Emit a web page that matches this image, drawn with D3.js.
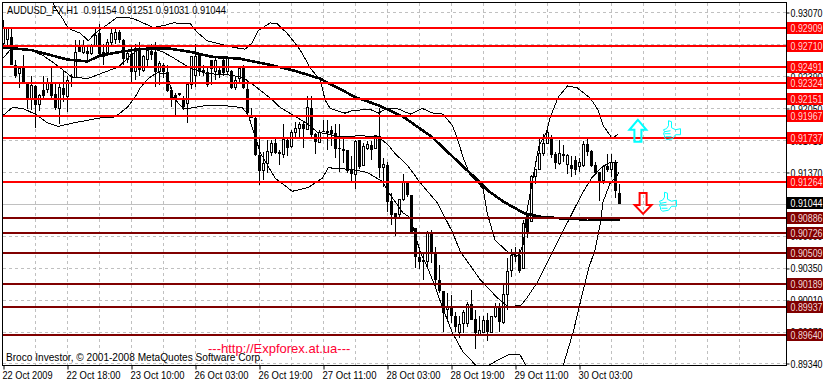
<!DOCTYPE html>
<html>
<head>
<meta charset="utf-8">
<script src="https://cdnjs.cloudflare.com/ajax/libs/d3/7.8.5/d3.min.js"></script>
<style>
    html, body { margin: 0; padding: 0; background: #fff; overflow: hidden; }
    svg { display: block; }
    text { font-family: "Liberation Sans", sans-serif; }
</style>
</head>
<body>
<svg id="chart" width="823" height="383"></svg>
<script>
// prices are in 1/10000, so 9104 means 0.91040
var candleOpen = [
    9274,9278,9281,9251,9242,9248,9233,9216,9229,9209,
    9225,9225,9232,9220,9205,9227,9218,9239,9238,9271,
    9265,9266,9263,9272,9285,9265,9265,9275,9278,9286,
    9278,9257,9263,9244,9269,9245,9257,9266,9265,9244,
    9251,9244,9225,9219,9221,9215,9210,9230,9240,9262,
    9246,9244,9256,9244,9246,9257,9244,9245,9227,9237,
    9249,9226,9198,9195,9156,9139,9147,9158,9168,9159,
    9156,9172,9165,9179,9184,9188,9183,9205,9178,9169,
    9181,9180,9182,9179,9163,9162,9161,9140,9135,9171,
    9144,9163,9166,9162,9176,9142,9145,9107,9094,9092,
    9108,9126,9113,9078,9047,9044,9042,9074,9051,9023,
    9011,8991,8995,8985,8967,8977,8977,8997,8981,8965,
    8967,8980,8967,8984,8994,8978,9007,9033,9049,9049,
    9035,9092,9085,9133,9140,9157,9168,9173,9157,9147,
    9157,9145,9145,9150,9143,9144,9167,9160,9145,9137,
    9128,9144,9140,9148,9115]
var candleHigh = [
    9299,9292,9292,9256,9249,9262,9233,9240,9230,9220,
    9239,9237,9248,9233,9232,9245,9240,9242,9278,9278,
    9278,9271,9274,9290,9295,9274,9279,9290,9290,9288,
    9279,9267,9271,9274,9276,9262,9272,9274,9276,9255,
    9253,9251,9228,9221,9221,9218,9232,9260,9274,9262,
    9251,9248,9256,9260,9249,9258,9260,9246,9239,9249,
    9251,9235,9205,9198,9173,9159,9172,9172,9173,9161,
    9188,9173,9182,9191,9191,9191,9218,9218,9179,9182,
    9193,9193,9186,9189,9189,9173,9161,9154,9172,9172,
    9168,9170,9170,9177,9205,9152,9148,9115,9094,9108,
    9135,9127,9113,9078,9058,9051,9075,9076,9058,9039,
    9011,9009,9007,8989,8984,8991,8999,9012,8991,8984,
    8984,8988,8984,8998,8998,9018,9046,9056,9058,9056,
    9087,9092,9134,9141,9173,9178,9184,9177,9159,9171,
    9166,9157,9155,9154,9152,9170,9173,9161,9148,9138,
    9145,9157,9157,9150,9125]
var candleLow = [
    9272,9272,9251,9237,9227,9232,9204,9203,9184,9202,
    9216,9221,9216,9203,9188,9212,9201,9228,9237,9265,
    9263,9255,9262,9271,9260,9251,9262,9272,9274,9275,
    9251,9253,9233,9235,9239,9244,9248,9256,9228,9230,
    9237,9223,9207,9198,9218,9203,9190,9226,9228,9240,
    9240,9228,9230,9235,9237,9240,9242,9226,9225,9232,
    9226,9198,9195,9154,9124,9129,9136,9154,9157,9145,
    9152,9154,9163,9173,9175,9163,9182,9175,9157,9168,
    9180,9161,9165,9152,9138,9147,9136,9127,9119,9141,
    9144,9161,9150,9162,9131,9122,9095,9081,9070,9090,
    9107,9111,9072,9035,9034,9023,9034,9041,9014,9009,
    8967,8980,8977,8968,8961,8966,8973,8980,8949,8965,
    8966,8958,8966,8982,8968,8976,8991,9026,9042,9030,
    9035,9067,9085,9125,9140,9154,9168,9152,9141,9145,
    9148,9135,9132,9134,9138,9143,9154,9143,9134,9107,
    9125,9138,9132,9110,9103]
var candleClose = [
    9290,9290,9251,9240,9248,9232,9216,9229,9209,9219,
    9218,9232,9218,9205,9227,9219,9235,9238,9265,9265,
    9271,9263,9271,9283,9263,9260,9275,9285,9286,9278,
    9258,9263,9244,9269,9246,9260,9267,9262,9244,9253,
    9244,9224,9216,9214,9219,9207,9231,9260,9260,9244,
    9244,9230,9247,9256,9242,9243,9258,9227,9235,9248,
    9227,9200,9195,9156,9139,9147,9159,9168,9158,9157,
    9172,9163,9180,9184,9188,9183,9206,9177,9169,9180,
    9180,9181,9178,9162,9162,9160,9139,9135,9170,9143,
    9165,9167,9161,9176,9142,9145,9106,9092,9090,9108,
    9126,9113,9074,9047,9042,9042,9073,9051,9023,9011,
    8988,8993,8985,8973,8975,8988,8997,8980,8966,8969,
    8980,8967,8984,8994,8978,9007,9032,9049,9047,9032,
    9083,9072,9133,9140,9157,9168,9179,9156,9147,9157,
    9155,9155,9141,9140,9148,9167,9159,9144,9136,9127,
    9143,9140,9148,9117,9104]

// indicator lines, bar number and price read at the bends
var maBars = [0,7,16,21,24,29,34,41,47,52,59,67,72,79,88,94,100,107,114,119,121,125,130,134,140,146,154]
var maPrices = [9270,9267,9257,9255,9261,9265,9268,9269,9265,9260,9258,9251,9246,9237,9217,9208,9196,9175,9147,9127,9118,9106,9094,9090,9088,9087,9087]

var upperBars = [12.4,12.9,14.7,16.2,19.2,21.2,22.9,25.9,28.4,32.2,35.4,37.4,40.9,42.4,46.7,48.4,50.9,53.7,57.4,60.4,62.2,63.7,66.7,68.4,70.9,72.4,74.2,76.7,79.2,80.4,81.7,85.4,87.4,91.7,93.7,95.9,98.4,101.7,104.7,107.4,109.9,112.2,113.4,114.9,116.7,119.9,120.9,122.9,126.2,128.7,129.9,130.9,132.4,133.9,135.7,136.7,138.7,141,143.4,146.7,148.7,149.9,152.2,153.7]
var upperPrices = [9318,9312,9301,9290,9285,9277,9285,9294,9302,9301,9295,9291,9294,9296,9295,9286,9277,9274,9270,9268,9275,9288,9296,9295,9285,9277,9267,9248,9235,9214,9205,9200,9203,9204,9200,9205,9205,9199,9205,9200,9199,9187,9174,9153,9134,9120,9094,9065,9052,9048,9060,9097,9132,9166,9179,9196,9217,9229,9227,9216,9203,9187,9173,9178]

var middleBars = [0,2.2,7.4,10,13.7,17.2,21.2,24.9,28.7,31.2,33.4,36.2,39.9,42.4,46.7,50.9,55.9,59.9,63.4,66.7,69.2,72.4,75.9,78.4,84.2,89.2,93.7,96.2,97.9,100.9,104.2,108.4,112.2,114.2,119.2,123.4,126.2,129.4,130.9,133.4,139.7,144.7,147.2,149.7,151.7,153.7]
var middlePrices = [9259,9270,9266,9261,9250,9238,9237,9243,9249,9259,9267,9270,9265,9259,9248,9242,9241,9238,9227,9216,9206,9198,9189,9180,9175,9176,9175,9166,9157,9145,9126,9105,9074,9053,9023,9004,8994,8996,9004,9020,9073,9115,9132,9143,9148,9148]

var lowerBars = [0,2.2,4.9,8.4,10.9,13.7,17.9,24.2,27.9,30.9,32.9,34.2,36.2,38.4,40.9,42.4,44.9,46.2,50.4,55.4,59.7,61.2,64.2,67.9,72.2,76.2,79.7,81.2,87.4,90.9,94.9,95.9,99.9,101.7,104.2,105.9,107.9,109.7,112.2,114.9,117.9,119.7,121.7,123.7,126.7,129.2,130.4,133,137,140,142.4,144.2,146.2,147.9,149.2,149.9,151.7,152.9,153.9]
var lowerPrices = [9198,9206,9205,9198,9190,9186,9190,9195,9196,9206,9217,9227,9237,9243,9242,9217,9205,9205,9208,9208,9206,9198,9158,9131,9117,9121,9131,9142,9140,9137,9127,9118,9094,9089,9052,9037,9016,8994,8967,8946,8933,8925,8933,8938,8944,8943,8933,8912,8912,8933,8967,8999,9034,9055,9083,9106,9126,9131,9137]

var resistanceLevels = [9290.9,9271.0,9249.1,9232.4,9215.1,9196.7,9173.7,9126.4]
var supportLevels = [9088.6,9072.6,9050.9,9018.9,8993.7,8964.0]
var lastPrice = 9104.4

var priceTicks = [9307,9273,9239,9205,9171,9137,9103,9069,9035,9001,8967,8934]
var dateTickBars = [0,16,32,48,64,80,96,112,128,144]
var dateLabels = ["22 Oct 2009","22 Oct 18:00","23 Oct 10:00","26 Oct 03:00","26 Oct 19:00","27 Oct 11:00","28 Oct 03:00","28 Oct 19:00","29 Oct 11:00","30 Oct 03:00"]
var gridBars = d3.range(8, 192, 8)

var titleText = "AUDUSD_FX,H1  0.91154 0.91251 0.91031 0.91044"
var copyText = "Broco Investor, © 2001-2008 MetaQuotes Software Corp."
var urlText = "---http://Expforex.at.ua---"

const plotLeft = 2.5, plotRight = 786.5, plotTop = 2.5, plotBottom = 365.5

var x = d3.scaleLinear().domain([0, 195]).range([3.5, 783.5])
var y = d3.scaleLinear().domain([9307, 8934]).range([12.5, 363.5])
var priceText = d => (d / 10000).toFixed(5)

var svg = d3.select("#chart")

svg.append("defs").append("clipPath").attr("id", "plot")
    .append("rect")
    .attr("x", plotLeft).attr("y", plotTop)
    .attr("width", plotRight - plotLeft).attr("height", plotBottom - plotTop)

// grid
var grid = svg.append("g")
    .attr("stroke", "#c0c0c0")
    .attr("stroke-dasharray", "3,3")
    .attr("shape-rendering", "crispEdges")
grid.selectAll(".h").data(priceTicks).enter().append("line")
    .attr("class", "h")
    .attr("x1", plotLeft).attr("x2", plotRight)
    .attr("y1", d => Math.floor(y(d)) + 0.5).attr("y2", d => Math.floor(y(d)) + 0.5)
grid.selectAll(".v").data(gridBars).enter().append("line")
    .attr("class", "v")
    .attr("x1", d => x(d)).attr("x2", d => x(d))
    .attr("y1", plotTop).attr("y2", plotBottom)

// current price line
svg.append("line")
    .attr("x1", plotLeft).attr("x2", plotRight)
    .attr("y1", Math.ceil(y(lastPrice)) + 0.5).attr("y2", Math.ceil(y(lastPrice)) + 0.5)
    .attr("stroke", "#c0c0c0")
    .attr("shape-rendering", "crispEdges")

var plot = svg.append("g").attr("clip-path", "url(#plot)")

// candles
var candles = plot.append("g").attr("shape-rendering", "crispEdges")
    .selectAll("g").data(candleOpen).enter().append("g")

candles.append("line")
    .attr("x1", (d, i) => x(i)).attr("x2", (d, i) => x(i))
    .attr("y1", (d, i) => y(candleHigh[i])).attr("y2", (d, i) => y(candleLow[i]))
    .attr("stroke", "#000")

candles.append("rect")
    .attr("x", (d, i) => x(i) - (candleClose[i] >= d ? 1 : 1.5))
    .attr("width", (d, i) => candleClose[i] >= d ? 2 : 3)
    .attr("y", (d, i) => y(Math.max(d, candleClose[i])))
    .attr("height", (d, i) => Math.max(1, Math.abs(y(d) - y(candleClose[i]))))
    .attr("fill", (d, i) => candleClose[i] >= d ? "#fff" : "#000")
    .attr("stroke", (d, i) => candleClose[i] >= d ? "#000" : "none")

// moving average and bands
function drawLine(bars, prices, width) {
    var line = d3.line()
        .x(d => x(d))
        .y((d, i) => y(prices[i]))
    plot.append("path")
        .attr("d", line(bars))
        .attr("fill", "none")
        .attr("stroke", "#000")
        .attr("stroke-width", width)
        .attr("shape-rendering", "crispEdges")
}
drawLine(upperBars, upperPrices, 1)
drawLine(middleBars, middlePrices, 1)
drawLine(lowerBars, lowerPrices, 1)
drawLine(maBars, maPrices, 2.6)

// levels
function levelY(d) {
    return Math.round(y(d))
}
function drawLevels(levels, color) {
    svg.append("g").attr("shape-rendering", "crispEdges")
        .selectAll("line").data(levels).enter().append("line")
        .attr("x1", plotLeft).attr("x2", plotRight)
        .attr("y1", levelY).attr("y2", levelY)
        .attr("stroke", color)
        .attr("stroke-width", 2)
}
drawLevels(resistanceLevels, "#ff0000")
drawLevels(supportLevels, "#800000")

// arrows and thumbs, placed by bar and price
var upArrowBar = 158.6, upArrowPrice = 9193
var downArrowBar = 159.9, downArrowPrice = 9093
var upThumbBar = 165, upThumbPrice = 9192
var downThumbBar = 164, downThumbPrice = 9116

svg.append("path")
    .attr("transform", "translate(" + x(upArrowBar) + "," + y(upArrowPrice) + ")")
    .attr("d", "M0 0 L8.5 10 L3.5 10 L3.5 22 L-3.5 22 L-3.5 10 L-8.5 10 Z")
    .attr("fill", "none").attr("stroke", "#00ffff").attr("stroke-width", 2)

svg.append("path")
    .attr("transform", "translate(" + x(downArrowBar) + "," + y(downArrowPrice) + ")")
    .attr("d", "M0 0 L8.5 -9 L3.5 -9 L3.5 -21 L-3.5 -21 L-3.5 -9 L-8.5 -9 Z")
    .attr("fill", "none").attr("stroke", "#ff0000").attr("stroke-width", 2)

function drawThumb(bar, price) {
    var thumb = svg.append("g")
        .attr("transform", "translate(" + x(bar) + "," + y(price) + ")")
        .attr("fill", "none").attr("stroke", "#00ffff")
    thumb.append("path")
        .attr("d", "M5 0 L8 1 L8 7 L12 9 L17 8 L17 14 L12 14 L9 18 L3 19 L1 17 L1 15 L0 13 L1 11 L0 9 L3 8 L5 5 Z")
    thumb.append("path")
        .attr("d", "M1 11 L7 10 M1 13 L7 13 M2 16 L8 16")
}
drawThumb(upThumbBar, upThumbPrice)
drawThumb(downThumbBar, downThumbPrice)

// frame
svg.append("rect")
    .attr("x", plotLeft).attr("y", plotTop)
    .attr("width", plotRight - plotLeft).attr("height", plotBottom - plotTop)
    .attr("fill", "none").attr("stroke", "#000")
    .attr("shape-rendering", "crispEdges")

// squeeze a text to the width it has in the picture
function fitText(sel, width) {
    sel.attr("textLength", width).attr("lengthAdjust", "spacingAndGlyphs")
}

// axes
var yAxis = d3.axisRight(y)
    .tickValues(priceTicks)
    .tickFormat(priceText)
    .tickSize(3)
    .tickPadding(1)
var yG = svg.append("g").attr("transform", "translate(" + plotRight + ",0)").call(yAxis)
yG.select(".domain").remove()
yG.selectAll("text").attr("font-size", 11).attr("fill", "#000").attr("font-family", "Liberation Sans").call(fitText, 32)

var xAxis = d3.axisBottom(x)
    .tickValues(dateTickBars)
    .tickFormat((d, i) => dateLabels[i])
    .tickSize(4)
    .tickPadding(2)
var xG = svg.append("g").attr("transform", "translate(0," + plotBottom + ")").call(xAxis)
xG.select(".domain").remove()
xG.selectAll("text")
    .attr("text-anchor", "start")
    .attr("dx", -1.5)
    .attr("font-size", 11)
    .attr("fill", "#000")
    .attr("font-family", "Liberation Sans")
    .each(function (d, i) { fitText(d3.select(this), i == 0 ? 50 : 54) })

// price labels on the right
function drawBoxes(levels, color, textColor) {
    var box = svg.append("g").selectAll("g").data(levels).enter().append("g")
        .attr("transform", d => "translate(787," + levelY(d) + ")")
    box.append("rect")
        .attr("x", 0).attr("y", -6)
        .attr("width", 36).attr("height", 12)
        .attr("fill", color)
    box.append("text")
        .attr("x", 3.5).attr("y", 4)
        .attr("font-size", 11)
        .attr("fill", textColor)
        .text(priceText)
        .call(fitText, 32)
}
drawBoxes(resistanceLevels, "#ff0000", "#ffd8d8")
drawBoxes(supportLevels, "#800000", "#f0d8d8")
drawBoxes([lastPrice], "#000000", "#ffffff")

// texts on the chart
svg.append("text").attr("x", 7).attr("y", 14)
    .attr("font-size", 11).attr("fill", "#000")
    .style("white-space", "pre")
    .text(titleText)
    .call(fitText, 219)
svg.append("text").attr("x", 6).attr("y", 361)
    .attr("font-size", 11).attr("fill", "#000")
    .text(copyText)
    .call(fitText, 257)
svg.append("text").attr("x", 208).attr("y", 353)
    .attr("font-size", 13).attr("fill", "#ff0033")
    .text(urlText)
</script>
</body>
</html>
